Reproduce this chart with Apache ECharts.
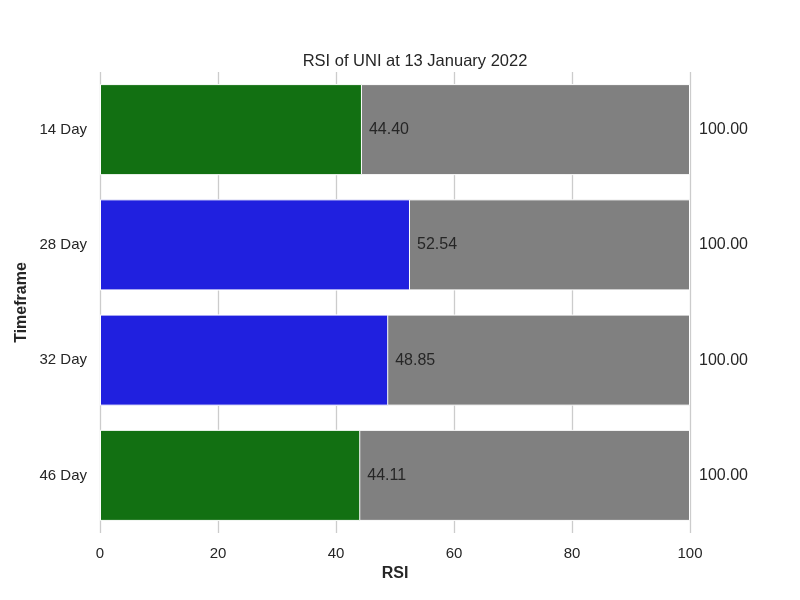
<!DOCTYPE html>
<html>
<head>
<meta charset="utf-8">
<script src="https://cdn.jsdelivr.net/npm/echarts@6/dist/echarts.min.js"></script>
<style>
  html, body { margin: 0; padding: 0; background: #fff; }
  #chart { width: 800px; height: 600px; }
</style>
</head>
<body>
<div id="chart"></div>
<script>
const timeframes = ['14 Day', '28 Day', '32 Day', '46 Day']
const rsiValues = [44.40, 52.54, 48.85, 44.11]
const maxValues = [100, 100, 100, 100]
const xTicks = [0, 20, 40, 60, 80, 100]
// bar colour per timeframe
const barColors = ['#127012', '#2020df', '#2020df', '#127012']

const font = 'Liberation Sans, Arial, sans-serif'
const textColor = '#262626'

const chart = echarts.init(document.getElementById('chart'))
chart.setOption({
  animation: false,
  title: {
    text: 'RSI of UNI at 13 January 2022',
    left: 410,
    top: 48,
    textAlign: 'center',
    textStyle: { fontFamily: font, fontSize: 16.5, fontWeight: 'normal', color: textColor }
  },
  grid: { left: 100, right: 110, top: 72, bottom: 67 },
  xAxis: {
    type: 'value',
    min: xTicks[0],
    max: xTicks[xTicks.length - 1],
    interval: 20,
    name: 'RSI',
    nameLocation: 'middle',
    nameGap: 33,
    nameTextStyle: { fontFamily: font, fontSize: 16, fontWeight: 'bold', color: textColor },
    axisLine: { show: false },
    axisTick: { show: false },
    axisLabel: { fontFamily: font, fontSize: 15, color: textColor, margin: 13 },
    splitLine: { show: true, lineStyle: { color: '#cccccc', width: 1.3 } }
  },
  yAxis: {
    type: 'category',
    data: timeframes,
    inverse: true,
    name: 'Timeframe',
    nameLocation: 'middle',
    nameGap: 70,
    nameMoveOverlap: false,
    nameTextStyle: { fontFamily: font, fontSize: 16, fontWeight: 'bold', color: textColor },
    axisLine: { show: false },
    axisTick: { show: false },
    axisLabel: { fontFamily: font, fontSize: 15, color: textColor, margin: 13 },
    splitLine: { show: false }
  },
  series: [
    {
      name: 'max',
      type: 'bar',
      data: maxValues,
      barWidth: '79%',
      barGap: '-100%',
      itemStyle: { color: '#808080', borderColor: '#ffffff', borderWidth: 1 },
      label: {
        show: true,
        position: 'right',
        distance: 9,
        formatter: p => p.value.toFixed(2),
        fontFamily: font,
        fontSize: 16,
        color: textColor
      },
      z: 2
    },
    {
      name: 'rsi',
      type: 'bar',
      data: rsiValues.map((v, i) => ({ value: v, itemStyle: { color: barColors[i] } })),
      barWidth: '79%',
      itemStyle: { borderColor: '#ffffff', borderWidth: 1 },
      label: {
        show: true,
        position: 'right',
        distance: 7,
        formatter: p => p.value.toFixed(2),
        fontFamily: font,
        fontSize: 16,
        color: textColor
      },
      z: 3
    }
  ]
})
</script>
</body>
</html>
